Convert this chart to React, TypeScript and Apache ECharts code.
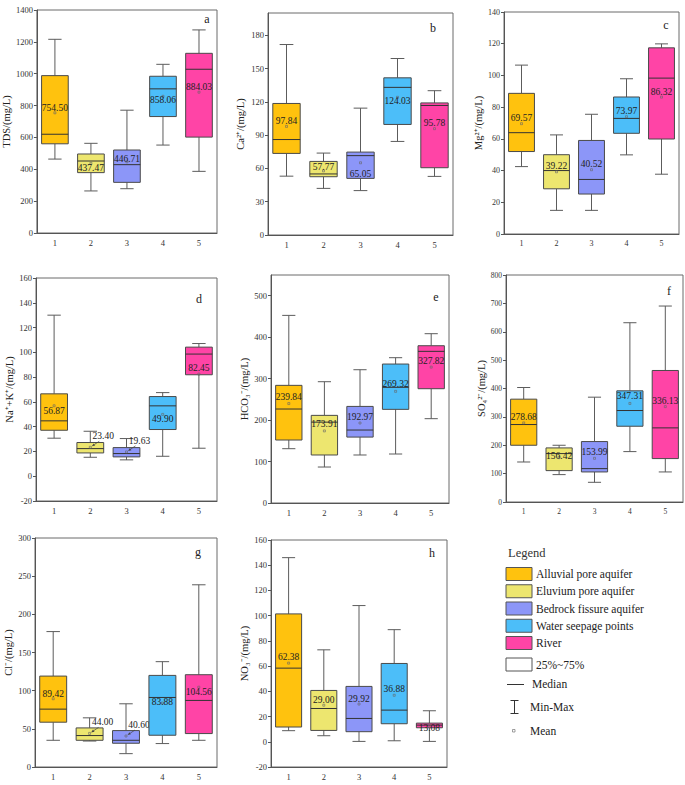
import React, { useEffect, useRef } from 'react';
import * as echarts from 'echarts';

const FONT = '"Liberation Serif", "Times New Roman", serif';

const groupLabels = ['1', '2', '3', '4', '5'];
const groupNames = [
  'Alluvial pore aquifer',
  'Eluvium pore aquifer',
  'Bedrock fissure aquifer',
  'Water seepage points',
  'River',
];
const groupColors = ['#FFC20E', '#EDE66F', '#8C96F8', '#4CBEF9', '#FF44A6'];
const legendExtras = ['25%~75%', 'Median', 'Min-Max', 'Mean'];

// each entry: [min, Q1, median, Q3, max]
const tdsStats = [[464, 560, 620, 988, 1216], [264, 379, 452, 496, 563], [278, 318, 429, 521, 771], [552, 731, 905, 984, 1059], [387, 602, 1028, 1128, 1275]];
const tdsMeans = [754.5, 437.47, 446.71, 858.06, 884.03];

const caStats = [[53, 73.5, 86, 118.5, 171.6], [42, 52.5, 55, 66.3, 73.8], [40, 51, 71.5, 74.7, 114.3], [84.3, 99.6, 133, 141.6, 159], [52.8, 60.6, 116.7, 119, 130]];
const caMeans = [97.84, 57.77, 65.05, 124.03, 95.78];

const mgStats = [[42.5, 52, 63.9, 88.7, 106.5], [14.9, 28.5, 40, 50, 62.5], [14.9, 25.2, 34.4, 59, 75.5], [49.9, 63.5, 72.9, 86.4, 97.9], [37.7, 59.9, 98.3, 117.4, 119.9]];
const mgMeans = [69.57, 39.22, 40.52, 73.97, 86.32];

const naStats = [[30.7, 37.1, 44.7, 66.5, 130], [15.3, 18.8, 22.3, 27.2, 36.3], [13.2, 15.6, 18.3, 23.1, 30.4], [16.1, 37.7, 56.8, 64.3, 67.5], [22.6, 81.9, 98.6, 104.2, 107.1]];
const naMeans = [56.87, 23.4, 19.63, 49.9, 82.45];

const hco3Stats = [[131, 151.9, 226.7, 283.8, 452.6], [86.8, 115.8, 195, 211.4, 292.6], [115.8, 159, 176, 233, 321.5], [118.2, 225.9, 279, 335.2, 350.5], [203.4, 275.7, 365.8, 379.4, 408.4]];
const hco3Means = [239.84, 173.91, 192.97, 269.32, 327.82];

const so4Stats = [[141, 200, 273, 362.4, 403.5], [96.5, 110.6, 170.6, 190.6, 200], [69.4, 105.9, 117.6, 213, 369.4], [177.6, 267, 322.4, 391.8, 631.8], [105.9, 153, 261.2, 463.5, 690.6]];
const so4Means = [278.68, 156.42, 153.99, 347.31, 336.13];

const clStats = [[35, 58.7, 75.8, 119.1, 177.4], [34, 35, 41.2, 51.2, 64.4], [17.5, 31.1, 35, 47.7, 82.8], [30.7, 41.6, 91.1, 120, 138], [35, 43.8, 87.2, 120.9, 238.7]];
const clMeans = [89.42, 44.0, 40.6, 83.88, 104.56];

const no3Stats = [[8.8, 11.7, 58.4, 101.4, 146], [4.8, 9, 26.4, 40.7, 72.9], [0.3, 8, 18.5, 43.9, 108], [0.8, 14.3, 25.1, 62.1, 88.9], [0.3, 11.1, 13.2, 14.8, 24.6]];
const no3Means = [62.38, 29.0, 29.92, 36.88, 13.08];

type Panel = {
  letter: string;
  stats: number[][];
  means: number[];
  name: string;
  min: number;
  max: number;
  interval: number;
  grid: { left: number; top: number; width: number; height: number };
  nameGap: number;
  labelSize: number;
  labelDy: number[];
  callout: number[];
  letterPos: [number, number];
};

const panels: Panel[] = [
  { letter: 'a', stats: tdsStats, means: tdsMeans, name: 'TDS/(mg/L)', min: 0, max: 1400, interval: 200, grid: { left: 35, top: 10, width: 182, height: 223 }, nameGap: 20, labelSize: 8.5, labelDy: [-5, 5, -3, 4, -5], callout: [], letterPos: [207, 19] },
  { letter: 'b', stats: caStats, means: caMeans, name: 'Ca²⁺/(mg/L)', min: 0, max: 200, interval: 30, grid: { left: 268, top: 13, width: 185, height: 222 }, nameGap: 22, labelSize: 8.5, labelDy: [-5, -4, 11, 4, -6], callout: [], letterPos: [433, 28] },
  { letter: 'c', stats: mgStats, means: mgMeans, name: 'Mg²⁺/(mg/L)', min: 0, max: 140, interval: 20, grid: { left: 504, top: 12, width: 175, height: 222 }, nameGap: 17, labelSize: 8, labelDy: [-6, -6, -6, -6, -5], callout: [], letterPos: [666, 25] },
  { letter: 'd', stats: naStats, means: naMeans, name: 'Na⁺+K⁺/(mg/L)', min: -20, max: 160, interval: 20, grid: { left: 36, top: 278, width: 181, height: 223 }, nameGap: 20, labelSize: 8.5, labelDy: [5, 0, 0, 5, -6], callout: [1, 2], letterPos: [199, 299] },
  { letter: 'e', stats: hco3Stats, means: hco3Means, name: 'HCO₃⁻/(mg/L)', min: 0, max: 550, interval: 100, grid: { left: 271, top: 275, width: 178, height: 228 }, nameGap: 19, labelSize: 8.5, labelDy: [-7, -7, -6, -7, -6], callout: [], letterPos: [436, 297] },
  { letter: 'f', stats: so4Stats, means: so4Means, name: 'SO₄²⁻/(mg/L)', min: 0, max: 800, interval: 100, grid: { left: 506, top: 275, width: 177, height: 227 }, nameGap: 14, labelSize: 7.5, labelDy: [-6, -2, -6, -7, -6], callout: [], letterPos: [669, 291] },
  { letter: 'g', stats: clStats, means: clMeans, name: 'Cl⁻/(mg/L)', min: 0, max: 300, interval: 50, grid: { left: 35, top: 538, width: 182, height: 229 }, nameGap: 20, labelSize: 8.5, labelDy: [-5, 0, 0, -1, 5], callout: [1, 2], letterPos: [198, 552] },
  { letter: 'h', stats: no3Stats, means: no3Means, name: 'NO₃⁻/(mg/L)', min: -20, max: 160, interval: 20, grid: { left: 271, top: 540, width: 176, height: 227 }, nameGap: 18, labelSize: 8.5, labelDy: [-6, -5, -5, -6, 3], callout: [], letterPos: [432, 553] },
];

const fmt = (v: number) => v.toFixed(2);

function makeRenderItem(panel: Panel) {
  return (params: any, api: any) => {
    const i = api.value(0);
    const pt = (v: number) => api.coord([i, v]);
    const cx = pt(api.value(1))[0];
    const yMin = pt(api.value(1))[1];
    const yQ1 = pt(api.value(2))[1];
    const yMed = pt(api.value(3))[1];
    const yQ3 = pt(api.value(4))[1];
    const yMax = pt(api.value(5))[1];
    const mean = api.value(6);
    const yMean = pt(mean)[1];
    const band = api.size([1, 0])[0];
    const bw = band * 0.74;
    const cap = bw * 0.5;
    const col = groupColors[params.dataIndex];
    const wStyle = { stroke: '#5c5c5c', lineWidth: 1 };
    const children: any[] = [
      { type: 'line', shape: { x1: cx, y1: yMax, x2: cx, y2: yQ3 }, style: wStyle },
      { type: 'line', shape: { x1: cx, y1: yQ1, x2: cx, y2: yMin }, style: wStyle },
      { type: 'line', shape: { x1: cx - cap / 2, y1: yMax, x2: cx + cap / 2, y2: yMax }, style: wStyle },
      { type: 'line', shape: { x1: cx - cap / 2, y1: yMin, x2: cx + cap / 2, y2: yMin }, style: wStyle },
      { type: 'rect', shape: { x: cx - bw / 2, y: yQ3, width: bw, height: yQ1 - yQ3 }, style: { fill: col, stroke: '#4a4a4a', lineWidth: 1 } },
      { type: 'line', shape: { x1: cx - bw / 2, y1: yMed, x2: cx + bw / 2, y2: yMed }, style: { stroke: '#333', lineWidth: 1 } },
      { type: 'rect', shape: { x: cx - 1, y: yMean - 1, width: 2, height: 2 }, style: { fill: 'none', stroke: '#666', lineWidth: 0.6 } },
    ];
    const idx = params.dataIndex;
    if (panel.callout.indexOf(idx) >= 0) {
      const tx = cx + 13;
      const ty = yMean - 11;
      const sx = cx + 9, sy = yMean - 6;
      const ex = cx + 1.5, ey = yMean - 1;
      const dx = ex - sx, dy = ey - sy;
      const L = Math.sqrt(dx * dx + dy * dy);
      const ux = dx / L, uy = dy / L;
      const bx = ex - ux * 3.2, by = ey - uy * 3.2;
      const px = -uy * 1.3, py = ux * 1.3;
      children.push({ type: 'line', shape: { x1: sx, y1: sy, x2: bx, y2: by }, style: { stroke: '#444', lineWidth: 0.7 } });
      children.push({ type: 'polygon', shape: { points: [[ex, ey], [bx + px, by + py], [bx - px, by - py]] }, style: { fill: '#444' } });
      children.push({ type: 'text', style: { text: fmt(mean), x: tx, y: ty, textAlign: 'center', textVerticalAlign: 'middle', font: `9.5px ${FONT}`, fill: '#222' } });
    } else {
      children.push({ type: 'text', style: { text: fmt(mean), x: cx, y: yMean + panel.labelDy[idx], textAlign: 'center', textVerticalAlign: 'middle', font: `9.5px ${FONT}`, fill: '#222' } });
    }
    return { type: 'group', children };
  };
}

function buildOption() {
  const grids: any[] = [];
  const xAxes: any[] = [];
  const yAxes: any[] = [];
  const series: any[] = [];
  const graphics: any[] = [];

  panels.forEach((p, k) => {
    grids.push({ ...p.grid, show: true, borderColor: '#6a6a6a', borderWidth: 1, backgroundColor: 'transparent' });
    xAxes.push({
      type: 'category',
      gridIndex: k,
      data: groupLabels,
      boundaryGap: true,
      axisLine: { onZero: false, lineStyle: { color: '#555', width: 1 } },
      axisTick: { alignWithLabel: true, length: 4, lineStyle: { color: '#555' } },
      axisLabel: { fontFamily: FONT, fontSize: p.labelSize, color: '#333', margin: 5 },
      splitLine: { show: false },
    });
    yAxes.push({
      type: 'value',
      gridIndex: k,
      min: p.min,
      max: p.max,
      interval: p.interval,
      name: p.name,
      nameLocation: 'middle',
      nameGap: p.nameGap,
      nameTextStyle: { fontFamily: FONT, fontSize: 10.5, color: '#222' },
      axisLine: { show: true, onZero: false, lineStyle: { color: '#555', width: 1 } },
      axisTick: { show: true, length: 3, lineStyle: { color: '#555' } },
      axisLabel: {
        fontFamily: FONT,
        fontSize: p.labelSize,
        color: '#333',
        margin: 4,
        showMaxLabel: p.max % p.interval === 0,
        formatter: (v: number) => String(v),
      },
      splitLine: { show: false },
    });
    series.push({
      type: 'custom',
      xAxisIndex: k,
      yAxisIndex: k,
      clip: false,
      renderItem: makeRenderItem(p),
      encode: { x: 0, y: [1, 2, 3, 4, 5, 6] },
      data: p.stats.map((s, i) => [i, s[0], s[1], s[2], s[3], s[4], p.means[i]]),
    });
    graphics.push({
      type: 'text',
      x: p.letterPos[0],
      y: p.letterPos[1],
      style: { text: p.letter, textAlign: 'center', textVerticalAlign: 'middle', font: `12px ${FONT}`, fill: '#222' },
    });
  });

  // Legend
  const lx = 506;
  graphics.push({ type: 'text', x: 508, y: 553, style: { text: 'Legend', textAlign: 'left', textVerticalAlign: 'middle', font: `12.5px ${FONT}`, fill: '#333' } });
  groupNames.forEach((n, i) => {
    const cy = 574 + i * 17.25;
    graphics.push({ type: 'rect', shape: { x: lx, y: cy - 6.5, width: 26, height: 13 }, style: { fill: groupColors[i], stroke: '#555', lineWidth: 1 } });
    graphics.push({ type: 'text', x: 536, y: cy, style: { text: n, textAlign: 'left', textVerticalAlign: 'middle', font: `11.5px ${FONT}`, fill: '#222' } });
  });
  // 25%~75%
  graphics.push({ type: 'rect', shape: { x: lx, y: 658, width: 26, height: 13 }, style: { fill: '#fff', stroke: '#555', lineWidth: 1 } });
  graphics.push({ type: 'text', x: 536, y: 665, style: { text: legendExtras[0], textAlign: 'left', textVerticalAlign: 'middle', font: `11.5px ${FONT}`, fill: '#222' } });
  // Median
  graphics.push({ type: 'line', shape: { x1: 507, y1: 684.5, x2: 524, y2: 684.5 }, style: { stroke: '#333', lineWidth: 1 } });
  graphics.push({ type: 'text', x: 532, y: 684, style: { text: legendExtras[1], textAlign: 'left', textVerticalAlign: 'middle', font: `11.5px ${FONT}`, fill: '#222' } });
  // Min-Max
  graphics.push({ type: 'line', shape: { x1: 514.5, y1: 700, x2: 514.5, y2: 714 }, style: { stroke: '#333', lineWidth: 1 } });
  graphics.push({ type: 'line', shape: { x1: 510.5, y1: 700.5, x2: 518.5, y2: 700.5 }, style: { stroke: '#333', lineWidth: 1 } });
  graphics.push({ type: 'line', shape: { x1: 510.5, y1: 713.5, x2: 518.5, y2: 713.5 }, style: { stroke: '#333', lineWidth: 1 } });
  graphics.push({ type: 'text', x: 530, y: 707, style: { text: legendExtras[2], textAlign: 'left', textVerticalAlign: 'middle', font: `11.5px ${FONT}`, fill: '#222' } });
  // Mean
  graphics.push({ type: 'rect', shape: { x: 512.5, y: 729.5, width: 2.5, height: 2.5 }, style: { fill: 'none', stroke: '#777', lineWidth: 0.7 } });
  graphics.push({ type: 'text', x: 530, y: 731, style: { text: legendExtras[3], textAlign: 'left', textVerticalAlign: 'middle', font: `11.5px ${FONT}`, fill: '#222' } });

  return {
    animation: false,
    backgroundColor: '#ffffff',
    textStyle: { fontFamily: FONT },
    grid: grids,
    xAxis: xAxes,
    yAxis: yAxes,
    series,
    graphic: { elements: graphics },
  };
}

export default function App() {
  const ref = useRef<HTMLDivElement>(null);
  useEffect(() => {
    if (!ref.current) return;
    const chart = echarts.init(ref.current, undefined, { renderer: 'svg' });
    chart.setOption(buildOption() as any);
    return () => chart.dispose();
  }, []);
  return (
    <div
      ref={ref}
      style={{ position: 'absolute', left: 0, top: 0, width: 685, height: 785, background: '#fff' }}
    />
  );
}
